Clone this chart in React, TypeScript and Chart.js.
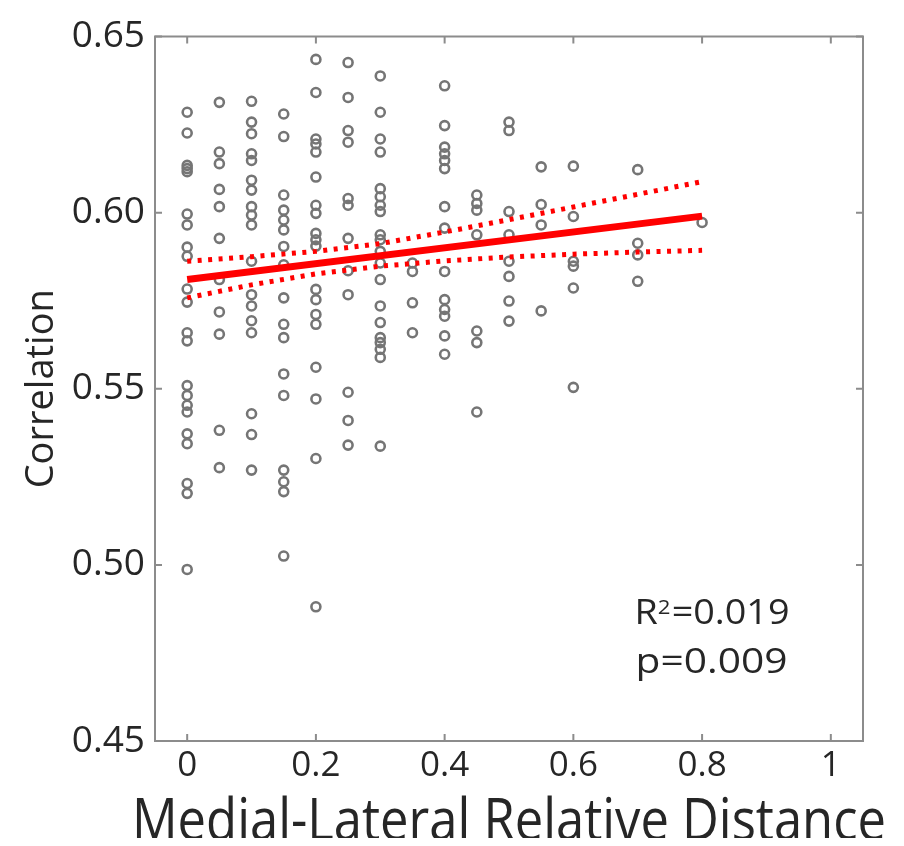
import React, { useEffect, useRef } from "react";
import { Chart, registerables } from "chart.js";

Chart.register(...registerables);

// ---- data ----
const columnX = [0, 0.05, 0.1, 0.15, 0.2, 0.25, 0.3, 0.35, 0.4, 0.45, 0.5, 0.55, 0.6, 0.7, 0.8];

const col000 = [0.6285, 0.6226, 0.6134, 0.6125, 0.6116, 0.5996, 0.5965, 0.5902, 0.5876, 0.5783, 0.5746, 0.5659, 0.5636, 0.5509, 0.5481, 0.5453, 0.5434, 0.5372, 0.5344, 0.5231, 0.5203, 0.4987];
const col005 = [0.6313, 0.6172, 0.6139, 0.6066, 0.6017, 0.5927, 0.581, 0.5718, 0.5655, 0.5382, 0.5276];
const col010 = [0.6316, 0.6257, 0.6224, 0.6167, 0.6148, 0.6092, 0.6064, 0.6017, 0.5993, 0.5965, 0.5862, 0.5767, 0.5735, 0.5693, 0.5659, 0.5429, 0.537, 0.5269];
const col015 = [0.628, 0.6216, 0.605, 0.6007, 0.5979, 0.5951, 0.5904, 0.5852, 0.5758, 0.5683, 0.5645, 0.5542, 0.5481, 0.5269, 0.5236, 0.5208, 0.5025];
const col020 = [0.6435, 0.6341, 0.6209, 0.6195, 0.6172, 0.6101, 0.6021, 0.5998, 0.5941, 0.5923, 0.5905, 0.5782, 0.5753, 0.5711, 0.5683, 0.5561, 0.5471, 0.5302, 0.4881];
const col025 = [0.6426, 0.6327, 0.6233, 0.62, 0.604, 0.6021, 0.5927, 0.5835, 0.5767, 0.549, 0.541, 0.534];
const col030 = [0.6388, 0.6285, 0.6209, 0.6172, 0.6068, 0.6045, 0.6021, 0.6003, 0.5937, 0.5923, 0.589, 0.5857, 0.581, 0.5735, 0.5688, 0.5645, 0.5631, 0.5612, 0.5589, 0.5337];
const col035 = [0.5857, 0.5833, 0.5744, 0.5659];
const col040 = [0.636, 0.6247, 0.6186, 0.6167, 0.6148, 0.6125, 0.6017, 0.5956, 0.5833, 0.5753, 0.5725, 0.5706, 0.565, 0.5598];
const col045 = [0.605, 0.6026, 0.6007, 0.5937, 0.5664, 0.5631, 0.5434];
const col050 = [0.6257, 0.6233, 0.6003, 0.5937, 0.5862, 0.5819, 0.5749, 0.5692];
const col055 = [0.613, 0.6023, 0.5965, 0.5721];
const col060 = [0.6132, 0.5989, 0.5862, 0.5848, 0.5786, 0.5504];
const col070 = [0.6122, 0.5913, 0.588, 0.5805];
const col080 = [0.5972];

const columnValues = [col000, col005, col010, col015, col020, col025, col030, col035, col040, col045, col050, col055, col060, col070, col080];

const fitX = [0, 0.8];
const fitY = [0.581, 0.599];

const ciX = [0, 0.1, 0.2, 0.3, 0.4, 0.5, 0.6, 0.7, 0.8];
const ciUpper = [0.5862, 0.5875, 0.589, 0.5912, 0.5945, 0.598, 0.6016, 0.6052, 0.6088];
const ciLower = [0.5758, 0.5795, 0.5826, 0.5848, 0.5863, 0.5874, 0.5882, 0.5888, 0.5893];

const xTickValues = [0, 0.2, 0.4, 0.6, 0.8, 1];
const yTickValues = [0.45, 0.5, 0.55, 0.6, 0.65];

const xTitle = "Medial-Lateral Relative Distance";
const yTitle = "Correlation";
const statR = "R";
const statSup = "2";
const statRValue = "=0.019";
const statP = "p=0.009";
const statPos = { x: 0.695, y1: 0.4832, y2: 0.4694 };

const TEXT = "#262626";
const FONT = "'Open Sans', 'Noto Sans', sans-serif";

const framePlugin = {
  id: "frame",
  beforeDatasetsDraw(chart: any) {
    const { ctx, chartArea: a, scales } = chart;
    ctx.save();
    ctx.strokeStyle = "#8c8c8c";
    ctx.lineWidth = 2;
    ctx.strokeRect(a.left, a.top, a.right - a.left, a.bottom - a.top);
    const tl = 7;
    ctx.beginPath();
    for (const v of xTickValues) {
      const px = scales.x.getPixelForValue(v);
      ctx.moveTo(px, a.bottom);
      ctx.lineTo(px, a.bottom - tl);
      ctx.moveTo(px, a.top);
      ctx.lineTo(px, a.top + tl);
    }
    for (const v of yTickValues) {
      const py = scales.y.getPixelForValue(v);
      ctx.moveTo(a.left, py);
      ctx.lineTo(a.left + tl, py);
      ctx.moveTo(a.right, py);
      ctx.lineTo(a.right - tl, py);
    }
    ctx.stroke();
    ctx.restore();
  },
  afterDraw(chart: any) {
    const { ctx, chartArea: a, scales } = chart;
    // x title (condensed)
    ctx.save();
    ctx.fillStyle = TEXT;
    ctx.font = `58px ${FONT}`;
    ctx.textAlign = "center";
    ctx.textBaseline = "alphabetic";
    const w = ctx.measureText(xTitle).width;
    ctx.translate((a.left + a.right) / 2, 832);
    ctx.scale(754 / w, 1);
    ctx.fillText(xTitle, 0, 0);
    ctx.restore();

    // y title
    ctx.save();
    ctx.fillStyle = TEXT;
    ctx.font = `38px ${FONT}`;
    ctx.textAlign = "center";
    ctx.textBaseline = "alphabetic";
    ctx.translate(45, (a.top + a.bottom) / 2);
    ctx.rotate(-Math.PI / 2);
    ctx.fillText(yTitle, 0, 0);
    ctx.restore();

    // stats annotation
    const x0 = scales.x.getPixelForValue(statPos.x);
    const b1 = scales.y.getPixelForValue(statPos.y1);
    const b2 = scales.y.getPixelForValue(statPos.y2);
    ctx.save();
    ctx.fillStyle = TEXT;
    ctx.textAlign = "left";
    ctx.textBaseline = "alphabetic";
    ctx.font = `34px ${FONT}`;
    const wR = ctx.measureText(statR).width;
    const wV = ctx.measureText(statRValue).width;
    ctx.font = `20px ${FONT}`;
    const wS = ctx.measureText(statSup).width;
    const total1 = wR + wS + 1 + wV;
    ctx.translate(x0, b1);
    ctx.scale(155 / total1, 1);
    ctx.font = `34px ${FONT}`;
    ctx.fillText(statR, 0, 0);
    ctx.font = `20px ${FONT}`;
    ctx.fillText(statSup, wR, -10);
    ctx.font = `34px ${FONT}`;
    ctx.fillText(statRValue, wR + wS + 1, 0);
    ctx.restore();

    ctx.save();
    ctx.fillStyle = TEXT;
    ctx.textAlign = "left";
    ctx.textBaseline = "alphabetic";
    ctx.font = `34px ${FONT}`;
    const wP = ctx.measureText(statP).width;
    ctx.translate(x0 + 1, b2);
    ctx.scale(152 / wP, 1);
    ctx.fillText(statP, 0, 0);
    ctx.restore();
  },
};

export default function App() {
  const ref = useRef<HTMLCanvasElement | null>(null);

  useEffect(() => {
    if (!ref.current) return;
    const points: { x: number; y: number }[] = [];
    columnX.forEach((cx, i) => {
      for (const v of columnValues[i]) points.push({ x: cx, y: v });
    });
    const fitData = fitX.map((x, i) => ({ x, y: fitY[i] }));
    const upData = ciX.map((x, i) => ({ x, y: ciUpper[i] }));
    const loData = ciX.map((x, i) => ({ x, y: ciLower[i] }));

    const chart = new Chart(ref.current, {
      type: "scatter",
      data: {
        datasets: [
          {
            label: "fit",
            data: fitData,
            showLine: true,
            borderColor: "#ff0000",
            borderWidth: 7,
            pointRadius: 0,
            order: 0,
          },
          {
            label: "upper",
            data: upData,
            showLine: true,
            borderColor: "#ff0000",
            borderWidth: 5,
            borderDash: [4, 6.5],
            pointRadius: 0,
            order: 1,
          },
          {
            label: "lower",
            data: loData,
            showLine: true,
            borderColor: "#ff0000",
            borderWidth: 5,
            borderDash: [4, 6.5],
            pointRadius: 0,
            order: 2,
          },
          {
            label: "data",
            data: points,
            pointRadius: 4.5,
            pointBorderWidth: 2.6,
            pointBorderColor: "#757575",
            pointBackgroundColor: "rgba(0,0,0,0)",
            pointStyle: "circle",
            order: 5,
          },
        ],
      },
      options: {
        animation: false,
        responsive: false,
        events: [],
        layout: { padding: { top: 23, right: 33, left: 0, bottom: 0 } },
        plugins: {
          legend: { display: false },
          tooltip: { enabled: false },
        },
        scales: {
          x: {
            type: "linear",
            min: -0.05,
            max: 1.05,
            afterBuildTicks: (s: any) => {
              s.ticks = xTickValues.map((v) => ({ value: v }));
            },
            afterFit: (s: any) => {
              s.height = 97;
            },
            grid: { display: false, drawTicks: false },
            border: { display: false },
            ticks: {
              font: { family: FONT, size: 35, lineHeight: 1 },
              color: TEXT,
              padding: 8,
              maxRotation: 0,
              autoSkip: false,
              callback: (v: any) => String(v),
            },
          },
          y: {
            type: "linear",
            min: 0.45,
            max: 0.65,
            afterBuildTicks: (s: any) => {
              s.ticks = yTickValues.map((v) => ({ value: v }));
            },
            afterFit: (s: any) => {
              s.width = 147;
            },
            grid: { display: false, drawTicks: false },
            border: { display: false },
            ticks: {
              font: { family: FONT, size: 37, lineHeight: 1 },
              color: TEXT,
              padding: 10,
              autoSkip: false,
              callback: (v: any) => Number(v).toFixed(2),
            },
          },
        },
      },
      plugins: [framePlugin],
    });
    return () => chart.destroy();
  }, []);

  return (
    <div style={{ width: 888, height: 830 }}>
      <canvas ref={ref} width={888} height={830} style={{ display: "block" }} />
    </div>
  );
}
